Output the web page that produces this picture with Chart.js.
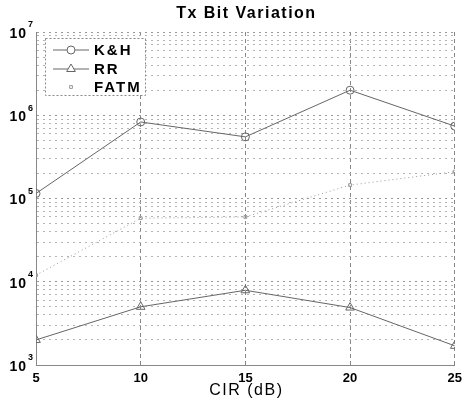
<!DOCTYPE html>
<html>
<head>
<meta charset="utf-8">
<script src="https://cdn.jsdelivr.net/npm/chart.js@4/dist/chart.umd.min.js"></script>
<style>
  html, body { margin: 0; padding: 0; background: #fff; }
  #wrap { width: 468px; height: 402px; }
</style>
</head>
<body>
<div id="wrap"><canvas id="chart" width="468" height="402"></canvas></div>
<script>
// Tx bit variation vs CIR, log scale
const cir = [5, 10, 15, 20, 25];
const khBits = [1.15e5, 8.3e5, 5.5e5, 2.0e6, 7.4e5];
const rrBits = [2.0e3, 5.0e3, 7.9e3, 4.9e3, 1.7e3];
const fatmBits = [1.2e4, 5.8e4, 6.0e4, 1.45e5, 2.1e5];

const seriesNames = ['K&H', 'RR', 'FATM'];
const decades = [3, 4, 5, 6, 7];
const yTickValues = [];
decades.forEach(e => {
    for (let m = 1; m <= 9; m++) {
        if (e === 7 && m > 1) break;
        yTickValues.push(m * Math.pow(10, e));
    }
});

const FONT = '"Liberation Sans", Arial, sans-serif';
const toPoints = arr => arr.map((v, i) => ({ x: cir[i], y: v }));
const isDecade = v => {
    const e = Math.log10(v);
    return Math.abs(e - Math.round(e)) < 1e-9;
};

// title, axis label, 10^n labels and legend, matlab style
const decorPlugin = {
    id: 'decor',
    afterDraw(chart) {
        const ctx = chart.ctx;
        const area = chart.chartArea;
        const yScale = chart.scales.y;
        ctx.save();
        ctx.fillStyle = '#000';
        ctx.textBaseline = 'middle';

        ctx.textAlign = 'center';
        ctx.font = 'bold 16px ' + FONT;
        ctx.letterSpacing = '1.5px';
        ctx.fillText('Tx Bit Variation', (area.left + area.right) / 2 + 1, 14);

        ctx.font = '16px ' + FONT;
        ctx.letterSpacing = '1.5px';
        ctx.fillText('CIR (dB)', (area.left + area.right) / 2 + 1, 391);

        // y labels as 10 with superscript exponent
        decades.forEach(e => {
            const y = yScale.getPixelForValue(Math.pow(10, e));
            ctx.letterSpacing = '1px';
            ctx.textAlign = 'right';
            ctx.font = 'bold 14px ' + FONT;
            ctx.fillText('10', 27, y + 2);
            ctx.textAlign = 'left';
            ctx.font = 'bold 9px ' + FONT;
            ctx.letterSpacing = '0px';
            ctx.fillText(String(e), 28, y - 7);
        });

        // legend box
        const bx = 45, by = 38, bw = 100, bh = 57;
        ctx.fillStyle = '#fff';
        ctx.fillRect(bx, by, bw, bh);
        ctx.strokeStyle = '#888';
        ctx.lineWidth = 1;
        ctx.setLineDash([2, 2]);
        ctx.strokeRect(bx + 0.5, by + 0.5, bw, bh);

        const rows = [50, 69, 87];
        chart.data.datasets.forEach((ds, i) => {
            const y = rows[i];
            ctx.strokeStyle = ds.borderColor;
            ctx.lineWidth = 1;
            ctx.setLineDash(ds.borderDash || []);
            ctx.beginPath();
            ctx.moveTo(53, y);
            ctx.lineTo(89, y);
            if (i < 2) ctx.stroke();
            ctx.setLineDash([]);
            ctx.fillStyle = '#fff';
            Chart.helpers.drawPoint(ctx, {
                pointStyle: ds.pointStyle,
                radius: ds.pointRadius,
                borderWidth: 1
            }, 71, y);
            ctx.fillStyle = '#000';
            ctx.textAlign = 'left';
            ctx.font = 'bold 15px ' + FONT;
            ctx.letterSpacing = '2px';
            ctx.fillText(ds.label, 94, y + 1);
        });
        ctx.restore();
    }
};

new Chart(document.getElementById('chart'), {
    type: 'line',
    data: {
        datasets: [
            {
                label: seriesNames[0],
                data: toPoints(khBits),
                borderColor: '#666',
                borderWidth: 1,
                pointStyle: 'circle',
                pointRadius: 4,
                pointBackgroundColor: 'rgba(255,255,255,0)',
                pointBorderColor: '#666'
            },
            {
                label: seriesNames[1],
                data: toPoints(rrBits),
                borderColor: '#666',
                borderWidth: 1,
                pointStyle: 'triangle',
                pointRadius: 5,
                pointBackgroundColor: 'rgba(255,255,255,0)',
                pointBorderColor: '#666'
            },
            {
                label: seriesNames[2],
                data: toPoints(fatmBits),
                borderColor: '#999',
                borderWidth: 1,
                borderDash: [1, 3],
                pointStyle: 'rect',
                pointRadius: 2,
                pointBackgroundColor: 'rgba(255,255,255,0)',
                pointBorderColor: '#999'
            }
        ]
    },
    options: {
        responsive: false,
        animation: false,
        layout: { padding: { top: 32, right: 7, left: 0, bottom: 0 } },
        plugins: {
            legend: { display: false },
            title: { display: false },
            tooltip: { enabled: false }
        },
        scales: {
            x: {
                type: 'linear',
                min: 5,
                max: 25,
                afterBuildTicks: scale => { scale.ticks = cir.map(v => ({ value: v })); },
                afterFit: scale => { scale.height = 37; },
                grid: {
                    color: '#888',
                    lineWidth: 1,
                    drawTicks: false
                },
                border: { display: true, color: '#888', dash: [4, 3] },
                ticks: {
                    color: '#000',
                    padding: 6,
                    maxRotation: 0,
                    font: { family: FONT, size: 13, weight: 'bold' }
                },
                title: { display: false }
            },
            y: {
                type: 'logarithmic',
                min: 1e3,
                max: 1e7,
                afterBuildTicks: scale => { scale.ticks = yTickValues.map(v => ({ value: v })); },
                afterFit: scale => { scale.width = 36; },
                grid: {
                    color: ctx => (ctx.tick && isDecade(ctx.tick.value)) ? '#999' : '#b4b4b4',
                    drawTicks: false
                },
                border: { display: true, color: '#888', dash: [2, 4] },
                ticks: {
                    autoSkip: false,
                    callback: () => ''
                }
            }
        }
    },
    plugins: [decorPlugin]
});
</script>
</body>
</html>
